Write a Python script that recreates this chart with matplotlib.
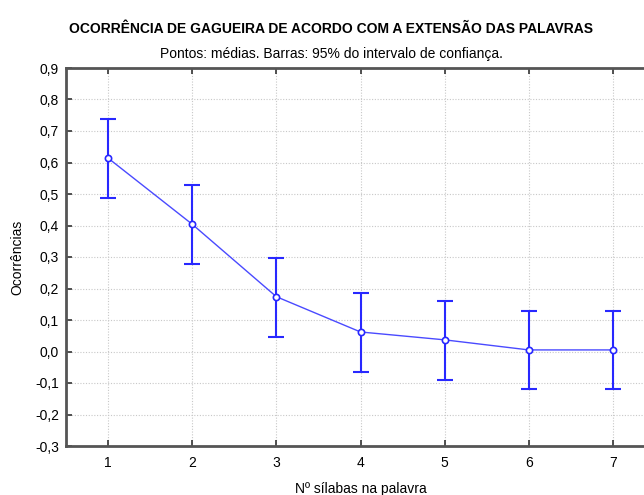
import matplotlib.pyplot as plt
from matplotlib.ticker import FuncFormatter, MultipleLocator

silabas = [1, 2, 3, 4, 5, 6, 7]
medias = [0.614, 0.404, 0.174, 0.062, 0.037, 0.005, 0.005]
limite_inf = [0.487, 0.277, 0.045, -0.065, -0.091, -0.120, -0.120]
limite_sup = [0.737, 0.527, 0.297, 0.187, 0.160, 0.130, 0.130]

titulo = 'OCORRÊNCIA DE GAGUEIRA DE ACORDO COM A EXTENSÃO DAS PALAVRAS'
subtitulo = 'Pontos: médias. Barras: 95% do intervalo de confiança.'

plt.rcParams['font.family'] = ['Liberation Sans', 'DejaVu Sans']

fig = plt.figure(figsize=(6.44, 4.95), dpi=100)
ax = fig.add_axes([66 / 644, 1 - 446 / 495, (655 - 66) / 644, (446 - 68) / 495])

erro_inf = [m - l for m, l in zip(medias, limite_inf)]
erro_sup = [s - m for m, s in zip(medias, limite_sup)]

ax.plot(silabas, medias, color='#4a4aff', lw=1.0, zorder=3)
ax.errorbar(silabas, medias, yerr=[erro_inf, erro_sup], fmt='none',
            ecolor='#2828ff', elinewidth=1.5, capsize=5.5, capthick=1.5, zorder=3)
ax.plot(silabas, medias, 'o', ms=4.5, mfc='white', mec='#2828ff', mew=1.2, zorder=4)

ax.set_xlim(0.5, 7.5)
ax.set_ylim(-0.3, 0.9)
ax.set_xticks(silabas)
ax.yaxis.set_major_locator(MultipleLocator(0.1))
ax.yaxis.set_major_formatter(FuncFormatter(lambda v, p: f'{v:.1f}'.replace('.', ',').replace('-0,0', '0,0')))

ax.grid(True, color='#c8c8c8', linestyle=(0, (1, 1.5)), lw=0.8)
ax.tick_params(direction='in', length=4, width=1.2, labelsize=10, top=True, right=False,
               colors='#333333', labelcolor='black')
ax.tick_params(axis='y', pad=5)
ax.tick_params(axis='x', pad=7)
for lado in ['left', 'bottom', 'top']:
    ax.spines[lado].set_linewidth(2)
    ax.spines[lado].set_color('#555555')
ax.spines['right'].set_visible(False)

ax.set_xlabel('Nº sílabas na palavra', fontsize=10)
ax.set_ylabel('Ocorrências', fontsize=10)
ax.xaxis.set_label_coords(0.5, -(482 - 446) / 378)
ax.yaxis.set_label_coords(-(66 - 24) / 589, 0.5)

fig.text(331 / 644, 1 - 29 / 495, titulo, ha='center', va='center', fontsize=10, fontweight='bold')
fig.text(331 / 644, 1 - 54 / 495, subtitulo, ha='center', va='center', fontsize=10)

fig.savefig('out.png', dpi=100)
